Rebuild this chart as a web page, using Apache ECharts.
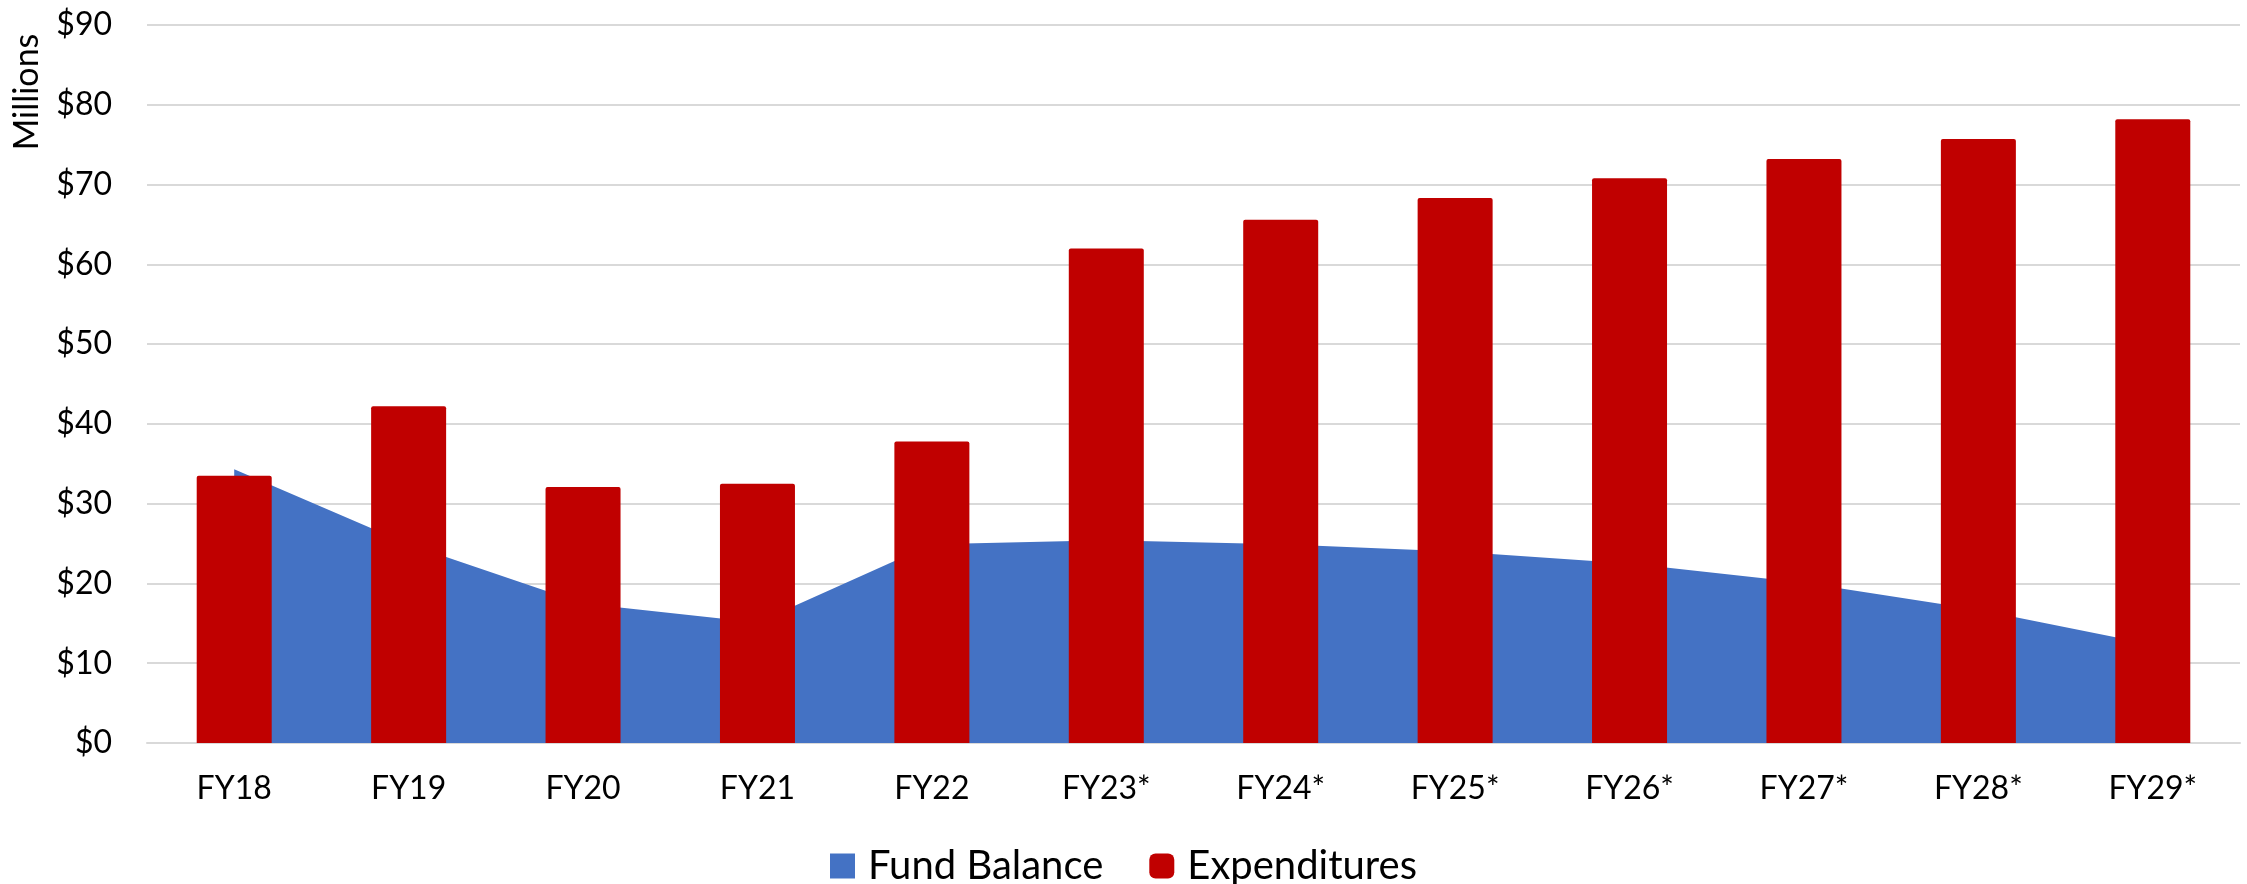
<!DOCTYPE html>
<html>
<head>
<meta charset="utf-8">
<script src="https://cdn.jsdelivr.net/npm/echarts@6/dist/echarts.min.js"></script>
<style>
html,body{margin:0;padding:0;background:#fff;}
#chart{width:2247px;height:884px;}
</style>
</head>
<body>
<div id="chart"></div>
<script>
const categories = ['FY18','FY19','FY20','FY21','FY22','FY23*','FY24*','FY25*','FY26*','FY27*','FY28*','FY29*'];
const fundBalance = [34.3, 24.9, 17.5, 15.1, 24.9, 25.4, 24.9, 24.0, 22.5, 20.1, 16.7, 12.3];
const expenditures = [33.5, 42.2, 32.1, 32.5, 37.8, 62.0, 65.6, 68.3, 70.8, 73.2, 75.7, 78.2];
const yTicks = {min: 0, max: 90, interval: 10};

const FONT = 'Lato, "Open Sans", sans-serif';
const chart = echarts.init(document.getElementById('chart'), null, {renderer: 'canvas'});
chart.setOption({
  animation: false,
  backgroundColor: '#ffffff',
  grid: {left: 147, right: 7, top: 25, bottom: 141, containLabel: false},
  legend: {
    data: [{name: 'Fund Balance', icon: 'rect'}, {name: 'Expenditures', icon: 'roundRect'}],
    left: 'center',
    top: 841,
    itemWidth: 25,
    itemHeight: 25,
    itemGap: 46,
    textStyle: {fontFamily: FONT, fontSize: 40, color: '#000', padding: [0, 0, 0, 8]}
  },
  graphic: [{
    type: 'text',
    x: 27,
    y: 92,
    rotation: Math.PI / 2,
    style: {text: 'Millions', fontFamily: FONT, fontSize: 34, fill: '#000', align: 'center', verticalAlign: 'middle'}
  }],
  xAxis: {
    type: 'category',
    data: categories,
    boundaryGap: true,
    axisLine: {show: true, lineStyle: {color: '#d9d9d9', width: 2}},
    axisTick: {show: false},
    axisLabel: {fontFamily: FONT, fontSize: 32, color: '#000', margin: 30}
  },
  yAxis: {
    type: 'value',
    min: yTicks.min,
    max: yTicks.max,
    interval: yTicks.interval,
    axisLine: {show: false},
    axisTick: {show: false},
    splitLine: {lineStyle: {color: '#d9d9d9', width: 2}},
    axisLabel: {fontFamily: FONT, fontSize: 32, color: '#000', margin: 35, formatter: v => '$' + v}
  },
  series: [
    {
      name: 'Fund Balance',
      type: 'line',
      data: fundBalance,
      symbol: 'none',
      lineStyle: {width: 0},
      itemStyle: {color: '#4472C4'},
      areaStyle: {color: '#4472C4', opacity: 1},
      z: 1
    },
    {
      name: 'Expenditures',
      type: 'bar',
      data: expenditures,
      barWidth: 75,
      itemStyle: {color: '#C00000', borderRadius: [2, 2, 0, 0]},
      z: 2
    }
  ]
});
</script>
</body>
</html>
